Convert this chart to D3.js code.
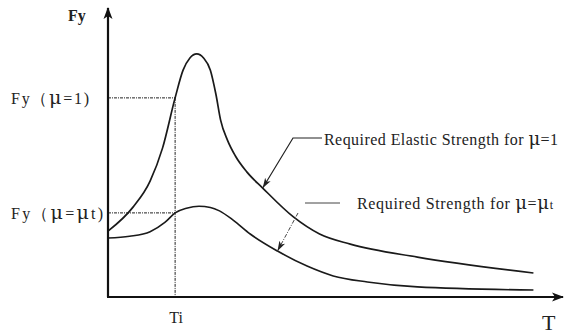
<!DOCTYPE html>
<html>
<head>
<meta charset="utf-8">
<script src="https://cdn.jsdelivr.net/npm/d3@7"></script>
<style>
  html, body { margin: 0; padding: 0; background: #fff; }
  svg { display: block; }
  text { font-family: "Liberation Serif", "Times New Roman", serif; fill: #222; }
</style>
</head>
<body>
<svg id="chart" width="565" height="334"></svg>
<script>
// Period T (s) and required strength Fy (normalised)
const elasticT  = [0, 0.22, 0.37, 0.48, 0.59, 0.66, 0.72, 0.78, 0.84, 0.90, 0.95, 0.99, 1.05, 1.12, 1.22, 1.36, 1.63, 1.86, 2.13, 2.72, 3.74];
const elasticFy = [0.228, 0.311, 0.401, 0.516, 0.689, 0.785, 0.827, 0.841, 0.827, 0.785, 0.699, 0.612, 0.543, 0.488, 0.433, 0.377, 0.277, 0.218, 0.183, 0.138, 0.083];

const ductileT  = [0, 0.19, 0.37, 0.50, 0.59, 0.69, 0.80, 0.90, 0.98, 1.10, 1.25, 1.49, 1.75, 1.98, 2.28, 2.72, 3.74];
const ductileFy = [0.204, 0.210, 0.226, 0.258, 0.291, 0.307, 0.314, 0.310, 0.298, 0.266, 0.218, 0.159, 0.107, 0.073, 0.052, 0.035, 0.024];

// Reference period and the strengths read at it
const Ti = 0.59;
const fyElasticAtTi = 0.689;
const fyDuctileAtTi = 0.291;

// Curve points the two callouts point to
const elasticCallout = { t: 1.36, fy: 0.377 };
const ductileCallout = { t: 1.49, fy: 0.159 };

const svg = d3.select("#chart");
const x = d3.scaleLinear().domain([0, 4]).range([108, 563]);
const y = d3.scaleLinear().domain([0, 1]).range([297, 8]);

// Markers
const defs = svg.append("defs");
defs.append("marker").attr("id", "axisHead")
  .attr("viewBox", "0 0 12 10").attr("refX", 11).attr("refY", 5)
  .attr("markerWidth", 12).attr("markerHeight", 10).attr("markerUnits", "userSpaceOnUse")
  .attr("orient", "auto")
  .append("path").attr("d", "M0,0.5 L12,5 L0,9.5 L3,5 Z").attr("fill", "#111");
defs.append("marker").attr("id", "pointer")
  .attr("viewBox", "0 0 10 8").attr("refX", 10).attr("refY", 4)
  .attr("markerWidth", 10).attr("markerHeight", 8).attr("markerUnits", "userSpaceOnUse")
  .attr("orient", "auto")
  .append("path").attr("d", "M0,0.8 L10,4 L0,7.2 L2.5,4 Z").attr("fill", "#222");

// Guide lines at Ti
const guide = svg.append("g").attr("fill", "none").attr("stroke", "#222")
  .attr("stroke-width", 1).attr("stroke-dasharray", "3,1,1,1");
guide.append("line").attr("x1", x(0)).attr("x2", x(Ti)).attr("y1", y(fyElasticAtTi)).attr("y2", y(fyElasticAtTi));
guide.append("line").attr("x1", x(0)).attr("x2", x(Ti)).attr("y1", y(fyDuctileAtTi)).attr("y2", y(fyDuctileAtTi));
guide.append("line").attr("x1", x(Ti)).attr("x2", x(Ti)).attr("y1", y(fyElasticAtTi)).attr("y2", y(0));

// Curves
const line = d3.line().x(d => x(d[0])).y(d => y(d[1])).curve(d3.curveMonotoneX);
svg.append("path").datum(d3.zip(elasticT, elasticFy)).attr("d", line)
  .attr("fill", "none").attr("stroke", "#1a1a1a").attr("stroke-width", 1.7);
svg.append("path").datum(d3.zip(ductileT, ductileFy)).attr("d", line)
  .attr("fill", "none").attr("stroke", "#1a1a1a").attr("stroke-width", 1.6);

// Axes
svg.append("line").attr("x1", x(0)).attr("y1", y(0)).attr("x2", x(0)).attr("y2", y(1))
  .attr("stroke", "#111").attr("stroke-width", 2.2).attr("marker-end", "url(#axisHead)");
svg.append("line").attr("x1", x(0) - 1).attr("y1", y(0)).attr("x2", x(4)).attr("y2", y(0))
  .attr("stroke", "#111").attr("stroke-width", 2.2).attr("marker-end", "url(#axisHead)");

// Axis titles and value labels
svg.append("text").attr("x", 68).attr("y", 21).attr("font-weight", "bold")
  .attr("font-size", 16).text("Fy");
svg.append("text").attr("x", 542).attr("y", 330).attr("font-size", 22).text("T");
svg.append("text").attr("x", x(Ti) + 1).attr("y", 323).attr("text-anchor", "middle")
  .attr("font-size", 16).text("Ti");

function muLabel(yPos, parts, width) {
  const t = svg.append("text").attr("x", 11).attr("y", yPos).attr("font-size", 16)
    .attr("textLength", width).attr("lengthAdjust", "spacing");
  parts.forEach(p => {
    const s = t.append("tspan").text(p.s);
    if (p.mu) s.attr("font-size", 19).attr("font-family", "DejaVu Serif");
  });
}
muLabel(y(fyElasticAtTi) + 6, [{ s: "Fy（" }, { s: "μ", mu: true }, { s: "=1)" }], 78);
muLabel(y(fyDuctileAtTi) + 6, [{ s: "Fy（" }, { s: "μ", mu: true }, { s: "=" }, { s: "μ", mu: true }, { s: "t)" }], 92);

// Callout: elastic strength
const c1 = { x: x(elasticCallout.t), y: y(elasticCallout.fy) };
svg.append("path")
  .attr("d", `M322,138 L293,138 L${c1.x},${c1.y}`)
  .attr("fill", "none").attr("stroke", "#222").attr("stroke-width", 1.2)
  .attr("marker-end", "url(#pointer)");
const t1 = svg.append("text").attr("x", 324).attr("y", 145).attr("font-size", 16)
  .attr("textLength", 234).attr("lengthAdjust", "spacing");
t1.append("tspan").text("Required Elastic Strength for ");
t1.append("tspan").attr("font-family", "DejaVu Serif").attr("font-size", 18).text("μ");
t1.append("tspan").text("=1");

// Callout: strength for ductility μt
const c2 = { x: x(ductileCallout.t), y: y(ductileCallout.fy) };
svg.append("line").attr("x1", 305).attr("x2", 340).attr("y1", 203).attr("y2", 203)
  .attr("stroke", "#444").attr("stroke-width", 1);
svg.append("line").attr("x1", 298).attr("y1", 213).attr("x2", c2.x).attr("y2", c2.y)
  .attr("stroke", "#444").attr("stroke-width", 1).attr("stroke-dasharray", "4,1.5,1,1.5")
  .attr("marker-end", "url(#pointer)");
const t2 = svg.append("text").attr("x", 357).attr("y", 209).attr("font-size", 16)
  .attr("textLength", 196).attr("lengthAdjust", "spacing");
t2.append("tspan").text("Required Strength for ");
t2.append("tspan").attr("font-family", "DejaVu Serif").attr("font-size", 18).text("μ");
t2.append("tspan").text("=");
t2.append("tspan").attr("font-family", "DejaVu Serif").attr("font-size", 18).text("μ");
t2.append("tspan").attr("font-size", 12).text("t");
</script>
</body>
</html>
